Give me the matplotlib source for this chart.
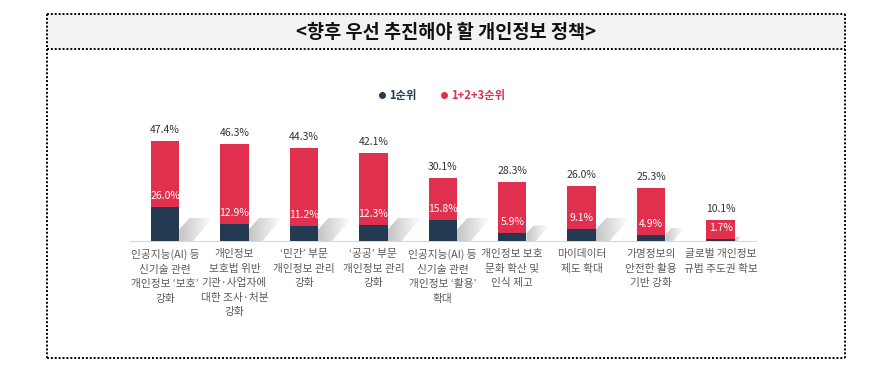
import matplotlib
matplotlib.use("Agg")
import matplotlib.pyplot as plt
import numpy as np
from matplotlib.lines import Line2D
from matplotlib.patches import Polygon, Rectangle
from matplotlib.colors import LinearSegmentedColormap

plt.rcParams['font.family'] = ['Noto Sans CJK KR', 'DejaVu Sans']

title = "<향후 우선 추진해야 할 개인정보 정책>"
categories = [
    "인공지능(AI) 등\n신기술 관련\n개인정보 ‘보호’\n강화",
    "개인정보\n보호법 위반\n기관·사업자에\n대한 조사·처분\n강화",
    "‘민간’ 부문\n개인정보 관리\n강화",
    "‘공공’ 부문\n개인정보 관리\n강화",
    "인공지능(AI) 등\n신기술 관련\n개인정보 ‘활용’\n확대",
    "개인정보 보호\n문화 확산 및\n인식 제고",
    "마이데이터\n제도 확대",
    "가명정보의\n안전한 활용\n기반 강화",
    "글로벌 개인정보\n규범 주도권 확보",
]
rank1 = [26.0, 12.9, 11.2, 12.3, 15.8, 5.9, 9.1, 4.9, 1.7]
rank123 = [47.4, 46.3, 44.3, 42.1, 30.1, 28.3, 26.0, 25.3, 10.1]
series_names = ["1순위", "1+2+3순위"]

NAVY = "#243a53"
RED = "#e0304e"

W, H = 878, 377
fig = plt.figure(figsize=(W / 100, H / 100), dpi=100)
fig.patch.set_facecolor("white")

def fx(x):
    return x / W

def fy(y):
    return 1 - y / H

# title band and dotted frame
fig.add_artist(Rectangle((fx(47), fy(49)), fx(845) - fx(47), fy(14) - fy(49),
                         transform=fig.transFigure, facecolor="#f2f2f2",
                         edgecolor="none", zorder=0))
dot = dict(color="black", lw=1.4, linestyle=(0, (1, 1)), transform=fig.transFigure)
for (x0, y0, x1, y1) in [(47, 14, 845, 14), (47, 49, 845, 49), (47, 358, 845, 358),
                         (47, 14, 47, 358), (845, 14, 845, 358)]:
    fig.add_artist(Line2D([fx(x0), fx(x1)], [fy(y0), fy(y1)], **dot))

fig.text(fx(446), fy(32), title, ha="center", va="center", fontsize=13.4,
         fontweight="bold", color="#111111")

# axes
ax_left, ax_right, ax_top, ax_bot = 130, 756, 100, 241
ax = fig.add_axes([fx(ax_left), fy(ax_bot), fx(ax_right) - fx(ax_left), fy(ax_top) - fy(ax_bot)])
ax.set_facecolor("none")
x = np.arange(len(categories))
px_per_unit = 69.45
xlim = ((ax_left - 165) / px_per_unit, (ax_right - 165) / px_per_unit)
ax.set_xlim(*xlim)
ymax1 = (ax_bot - ax_top) / 2.1
ax.set_ylim(0, ymax1)
bw = 0.41

# secondary axis for 1st-rank bars (chart uses a different scale)
ax2 = ax.twinx()
ax2.set_xlim(*xlim)
ymax2 = ymax1 * 1.6
ax2.set_ylim(0, ymax2)
ax2.set_axis_off()

# shadows (decorative, on secondary axis)
grad = np.linspace(0, 1, 256).reshape(1, -1)
cmap = LinearSegmentedColormap.from_list("sh", ["#c4c4c4", "#ffffff"])
cap = 23 / 1.31  # cap in secondary units (~23 px)
for i, v in enumerate(rank1):
    xr = x[i] + bw / 2
    hs = min(v * 2.0, cap)
    k = hs / cap
    poly = Polygon([(xr, 0), (xr, hs * 0.5), (xr + 0.15 * k, hs), (xr + 0.48 * k, hs),
                    (xr + 0.2 * k, 0)], closed=True, transform=ax2.transData,
                   facecolor="none", edgecolor="none")
    ax2.add_patch(poly)
    im = ax2.imshow(grad, extent=(xr, xr + 0.48 * k, 0, hs), cmap=cmap, aspect="auto",
                    zorder=1, interpolation="bilinear")
    im.set_clip_path(poly)
ax2.set_xlim(*xlim)
ax2.set_ylim(0, ymax2)

ax.bar(x, rank123, width=bw, color=RED, zorder=2)
ax2.bar(x, rank1, width=bw, color=NAVY, zorder=3)

for i in range(len(categories)):
    ax.annotate(f"{rank123[i]:.1f}%", (x[i], rank123[i]), xytext=(0, 8),
                textcoords="offset pixels", ha="center", va="baseline",
                fontsize=7.5, color="#333333")
    ax2.annotate(f"{rank1[i]:.1f}%", (x[i], rank1[i]), xytext=(0, 8),
                 textcoords="offset pixels", ha="center", va="baseline",
                 fontsize=7.5, color="white", zorder=5)

for s in ["top", "left", "right"]:
    ax.spines[s].set_visible(False)
ax.spines["bottom"].set_color("#d9d9d9")
ax.spines["bottom"].set_linewidth(0.8)
ax.set_yticks([])
ax.set_xticks(x)
ax.set_xticklabels(categories, fontsize=7.7, color="#595959", linespacing=1.55,
                   multialignment="center")
ax.tick_params(axis="x", length=0, pad=6)

# legend
handles = [Line2D([], [], marker="o", linestyle="none", color=NAVY, markersize=4),
           Line2D([], [], marker="o", linestyle="none", color=RED, markersize=4)]
leg = fig.legend(handles, series_names, loc="center", bbox_to_anchor=(fx(441), fy(95)),
                 ncol=2, frameon=False, prop={"size": 8.1, "weight": "bold"},
                 handletextpad=0.15, columnspacing=1.9, handlelength=1.0)
for t, c in zip(leg.get_texts(), [NAVY, RED]):
    t.set_color(c)

fig.savefig("out.png", dpi=100, facecolor="white")
